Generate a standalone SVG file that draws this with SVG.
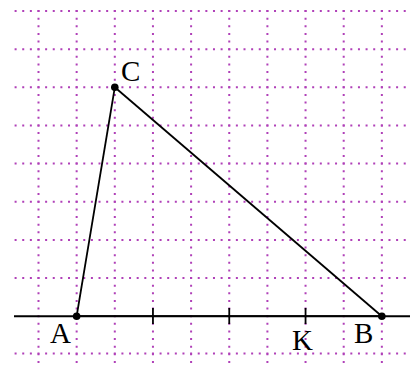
<svg xmlns="http://www.w3.org/2000/svg" width="410" height="365" viewBox="0 0 410 365">
<defs>
<style>
.h{stroke:#b040b8;stroke-width:2;stroke-dasharray:2 5.63;fill:none}
.v{stroke:#b040b8;stroke-width:2;stroke-dasharray:2 5.63;fill:none}
.edge{stroke:#000;stroke-width:1.8;fill:none}
.axis{stroke:#000;stroke-width:2;fill:none}
.tick{stroke:#000;stroke-width:1.8}
.pt{fill:#000}
.lbl{font-family:"Liberation Serif","Times New Roman",serif;font-size:29px;fill:#000}
</style>
</defs>
<rect width="410" height="365" fill="#fff"/>
<g id="grid">
<line class="h" x1="14.6" y1="11" x2="406" y2="11"/>
<line class="h" x1="14.6" y1="49.15" x2="406" y2="49.15"/>
<line class="h" x1="14.6" y1="87.3" x2="406" y2="87.3"/>
<line class="h" x1="14.6" y1="125.45" x2="406" y2="125.45"/>
<line class="h" x1="14.6" y1="163.6" x2="406" y2="163.6"/>
<line class="h" x1="14.6" y1="201.75" x2="406" y2="201.75"/>
<line class="h" x1="14.6" y1="239.9" x2="406" y2="239.9"/>
<line class="h" x1="14.6" y1="278.05" x2="406" y2="278.05"/>
<line class="h" x1="14.6" y1="353.4" x2="406" y2="353.4"/>
<line class="v" x1="38.5" y1="10" x2="38.5" y2="365"/>
<line class="v" x1="76.65" y1="10" x2="76.65" y2="365"/>
<line class="v" x1="114.8" y1="10" x2="114.8" y2="365"/>
<line class="v" x1="152.95" y1="10" x2="152.95" y2="365"/>
<line class="v" x1="191.1" y1="10" x2="191.1" y2="365"/>
<line class="v" x1="229.25" y1="10" x2="229.25" y2="365"/>
<line class="v" x1="267.4" y1="10" x2="267.4" y2="365"/>
<line class="v" x1="305.55" y1="10" x2="305.55" y2="365"/>
<line class="v" x1="343.7" y1="10" x2="343.7" y2="365"/>
<line class="v" x1="381.85" y1="10" x2="381.85" y2="365"/>
</g>
<g id="axis">
<line class="axis" x1="14" y1="316.2" x2="410" y2="316.2"/>
<line class="tick" x1="152.95" y1="308" x2="152.95" y2="324"/>
<line class="tick" x1="229.25" y1="308" x2="229.25" y2="324"/>
</g>
<g id="connectors">
<line class="edge" x1="76.65" y1="316.2" x2="114.8" y2="87.3"/>
<line class="edge" x1="114.8" y1="87.3" x2="381.85" y2="316.2"/>
<line class="edge" x1="76.65" y1="316.2" x2="381.85" y2="316.2"/>
</g>
<g id="node-A">
<circle class="pt" cx="76.65" cy="316.2" r="3.8"/>
<text class="lbl" x="50" y="343">A</text>
</g>
<g id="node-B">
<circle class="pt" cx="381.85" cy="316.2" r="3.8"/>
<text class="lbl" x="354" y="343">B</text>
</g>
<g id="node-C">
<circle class="pt" cx="114.8" cy="87.3" r="3.8"/>
<text class="lbl" x="121" y="81">C</text>
</g>
<g id="node-K">
<line class="tick" x1="305.55" y1="308" x2="305.55" y2="324"/>
<text class="lbl" x="292" y="350">K</text>
</g>
</svg>
